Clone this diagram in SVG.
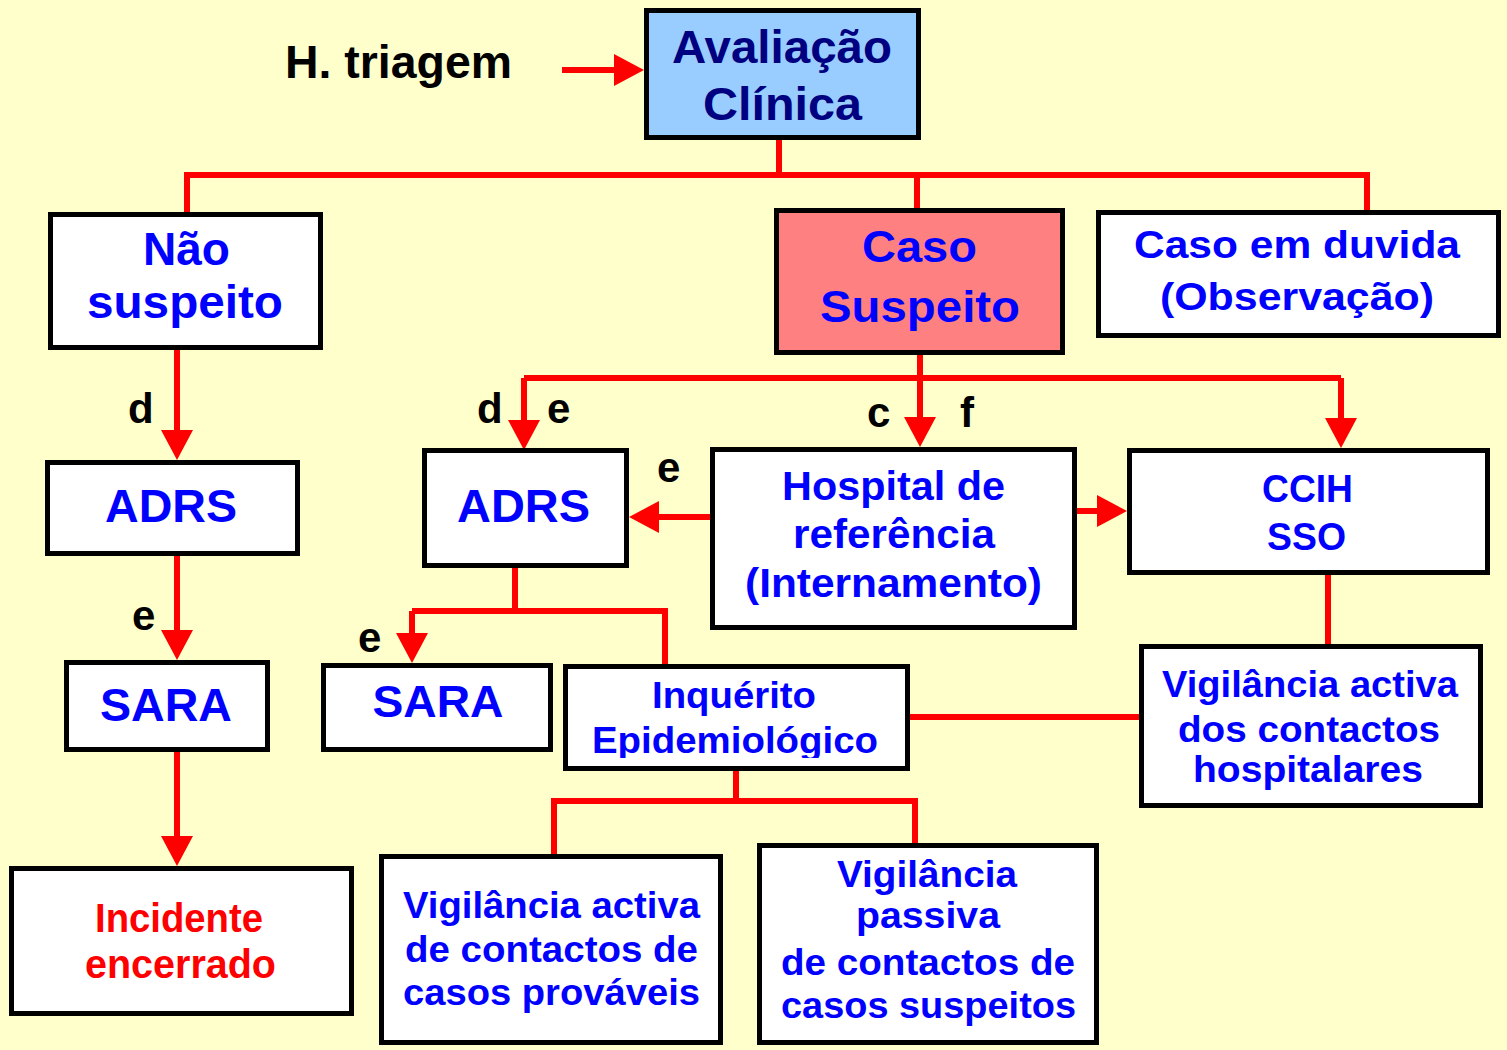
<svg xmlns="http://www.w3.org/2000/svg" width="1507" height="1050" viewBox="0 0 1507 1050">
<style>
.box{fill:#ffffff;stroke:#000000;stroke-width:5}
.t{font-family:"Liberation Sans",Arial,sans-serif;font-weight:bold;text-anchor:middle;fill:#0000ff}
.lbl{font-family:"Liberation Sans",Arial,sans-serif;font-weight:bold;font-size:42px;fill:#000000}
.c{fill:none;stroke:#ff0000;stroke-width:6}
</style>
<defs>
<marker id="ah" markerUnits="userSpaceOnUse" markerWidth="30" markerHeight="32" refX="10" refY="16" orient="auto">
<path d="M0,0 L30,16 L0,32 z" fill="#ff0000"/>
</marker>
<clipPath id="clipEpi"><rect x="560" y="660" width="360" height="98"/></clipPath>
</defs>
<rect x="0" y="0" width="1507" height="1050" fill="#ffffcc"/>

<g id="connectors">
<path class="c" d="M562,70 H624" marker-end="url(#ah)"/>
<path class="c" d="M779,140 V175 M187,212 V175 H1367 V210 M917,175 V208"/>
<path class="c" d="M177,350 V440" marker-end="url(#ah)"/>
<path class="c" d="M177,556 V640" marker-end="url(#ah)"/>
<path class="c" d="M177,752 V846" marker-end="url(#ah)"/>
<path class="c" d="M920,355 V378 M524,378 H1341"/>
<path class="c" d="M524,378 V430" marker-end="url(#ah)"/>
<path class="c" d="M920,378 V427" marker-end="url(#ah)"/>
<path class="c" d="M1341,378 V428" marker-end="url(#ah)"/>
<path class="c" d="M710,517 H649" marker-end="url(#ah)"/>
<path class="c" d="M1077,511 H1107" marker-end="url(#ah)"/>
<path class="c" d="M515,568 V611 M412,611 H665 V664"/>
<path class="c" d="M412,611 V643" marker-end="url(#ah)"/>
<path class="c" d="M910,717 H1139"/>
<path class="c" d="M1328,575 V644"/>
<path class="c" d="M736,771 V801 M554,854 V801 H915 V843"/>
</g>

<g id="triagem">
<text class="lbl" x="285" y="78" font-size="46" style="font-size:46px" textLength="227" lengthAdjust="spacingAndGlyphs">H. triagem</text>
</g>

<g id="avaliacao">
<rect x="646.5" y="10.5" width="272" height="127" fill="#99ccff" stroke="#000" stroke-width="5"/>
<text class="t" x="782" y="63" style="font-size:46px;fill:#000080" textLength="220" lengthAdjust="spacingAndGlyphs">Avaliação</text>
<text class="t" x="782.5" y="120" style="font-size:46px;fill:#000080" textLength="159" lengthAdjust="spacingAndGlyphs">Clínica</text>
</g>

<g id="nao-suspeito">
<rect class="box" x="50.5" y="214.5" width="270" height="133"/>
<text class="t" x="186.5" y="265" style="font-size:46px" textLength="87" lengthAdjust="spacingAndGlyphs">Não</text>
<text class="t" x="185" y="318" style="font-size:46px" textLength="196" lengthAdjust="spacingAndGlyphs">suspeito</text>
</g>

<g id="caso-suspeito">
<rect x="776.5" y="210.5" width="286" height="142" fill="#ff8080" stroke="#000" stroke-width="5"/>
<text class="t" x="919.5" y="262" style="font-size:44px" textLength="115" lengthAdjust="spacingAndGlyphs">Caso</text>
<text class="t" x="920" y="322" style="font-size:44px" textLength="200" lengthAdjust="spacingAndGlyphs">Suspeito</text>
</g>

<g id="caso-duvida">
<rect class="box" x="1098.5" y="212.5" width="400" height="123"/>
<text class="t" x="1297" y="258" style="font-size:38px" textLength="326" lengthAdjust="spacingAndGlyphs">Caso em duvida</text>
<text class="t" x="1297" y="310" style="font-size:38px" textLength="274" lengthAdjust="spacingAndGlyphs">(Observação)</text>
</g>

<g id="adrs-1">
<rect class="box" x="47.5" y="462.5" width="250" height="91"/>
<text class="t" x="171" y="522" style="font-size:46px" textLength="132" lengthAdjust="spacingAndGlyphs">ADRS</text>
</g>

<g id="sara-1">
<rect class="box" x="66.5" y="662.5" width="201" height="87"/>
<text class="t" x="166" y="721" style="font-size:46px" textLength="132" lengthAdjust="spacingAndGlyphs">SARA</text>
</g>

<g id="incidente">
<rect class="box" x="11.5" y="868.5" width="340" height="145"/>
<text class="t" x="179" y="932" style="font-size:40px;fill:#ff0000" textLength="168" lengthAdjust="spacingAndGlyphs">Incidente</text>
<text class="t" x="180.5" y="978" style="font-size:40px;fill:#ff0000" textLength="191" lengthAdjust="spacingAndGlyphs">encerrado</text>
</g>

<g id="adrs-2">
<rect class="box" x="424.5" y="450.5" width="202" height="115"/>
<text class="t" x="523.5" y="522" style="font-size:46px" textLength="133" lengthAdjust="spacingAndGlyphs">ADRS</text>
</g>

<g id="hospital">
<rect class="box" x="712.5" y="449.5" width="362" height="178"/>
<text class="t" x="893.5" y="500" style="font-size:41px" textLength="223" lengthAdjust="spacingAndGlyphs">Hospital de</text>
<text class="t" x="894" y="548" style="font-size:41px" textLength="202" lengthAdjust="spacingAndGlyphs">referência</text>
<text class="t" x="893.5" y="597" style="font-size:41px" textLength="297" lengthAdjust="spacingAndGlyphs">(Internamento)</text>
</g>

<g id="ccih">
<rect class="box" x="1129.5" y="450.5" width="358" height="122"/>
<text class="t" x="1307.5" y="502" style="font-size:39px" textLength="91" lengthAdjust="spacingAndGlyphs">CCIH</text>
<text class="t" x="1306.5" y="550" style="font-size:39px" textLength="79" lengthAdjust="spacingAndGlyphs">SSO</text>
</g>

<g id="sara-2">
<rect class="box" x="323.5" y="665.5" width="227" height="84"/>
<text class="t" x="438" y="717" style="font-size:44px" textLength="131" lengthAdjust="spacingAndGlyphs">SARA</text>
</g>

<g id="inquerito">
<rect class="box" x="565.5" y="666.5" width="342" height="102"/>
<text class="t" x="734" y="708" style="font-size:37px" textLength="164" lengthAdjust="spacingAndGlyphs">Inquérito</text>
<text class="t" x="735" y="753" style="font-size:37px" textLength="286" lengthAdjust="spacingAndGlyphs" clip-path="url(#clipEpi)">Epidemiológico</text>
</g>

<g id="vigilancia-hospitalares">
<rect class="box" x="1141.5" y="646.5" width="339" height="159"/>
<text class="t" x="1310" y="697" style="font-size:37px" textLength="296" lengthAdjust="spacingAndGlyphs">Vigilância activa</text>
<text class="t" x="1309" y="742" style="font-size:37px" textLength="262" lengthAdjust="spacingAndGlyphs">dos contactos</text>
<text class="t" x="1308" y="782" style="font-size:37px" textLength="230" lengthAdjust="spacingAndGlyphs">hospitalares</text>
</g>

<g id="vigilancia-provaveis">
<rect class="box" x="381.5" y="856.5" width="339" height="186"/>
<text class="t" x="551.5" y="918" style="font-size:37px" textLength="297" lengthAdjust="spacingAndGlyphs">Vigilância activa</text>
<text class="t" x="551.5" y="962" style="font-size:37px" textLength="293" lengthAdjust="spacingAndGlyphs">de contactos de</text>
<text class="t" x="551.5" y="1005" style="font-size:37px" textLength="297" lengthAdjust="spacingAndGlyphs">casos prováveis</text>
</g>

<g id="vigilancia-passiva">
<rect class="box" x="759.5" y="845.5" width="337" height="197"/>
<text class="t" x="927" y="887" style="font-size:37px" textLength="180" lengthAdjust="spacingAndGlyphs">Vigilância</text>
<text class="t" x="928" y="928" style="font-size:37px" textLength="144" lengthAdjust="spacingAndGlyphs">passiva</text>
<text class="t" x="928" y="975" style="font-size:37px" textLength="294" lengthAdjust="spacingAndGlyphs">de contactos de</text>
<text class="t" x="928.5" y="1018" style="font-size:37px" textLength="295" lengthAdjust="spacingAndGlyphs">casos suspeitos</text>
</g>

<g id="labels">
<text class="lbl" x="128" y="423">d</text>
<text class="lbl" x="132" y="630">e</text>
<text class="lbl" x="477" y="423">d</text>
<text class="lbl" x="547" y="423">e</text>
<text class="lbl" x="657" y="482">e</text>
<text class="lbl" x="358" y="652">e</text>
<text class="lbl" x="867" y="427">c</text>
<text class="lbl" x="960" y="427">f</text>
</g>
</svg>
